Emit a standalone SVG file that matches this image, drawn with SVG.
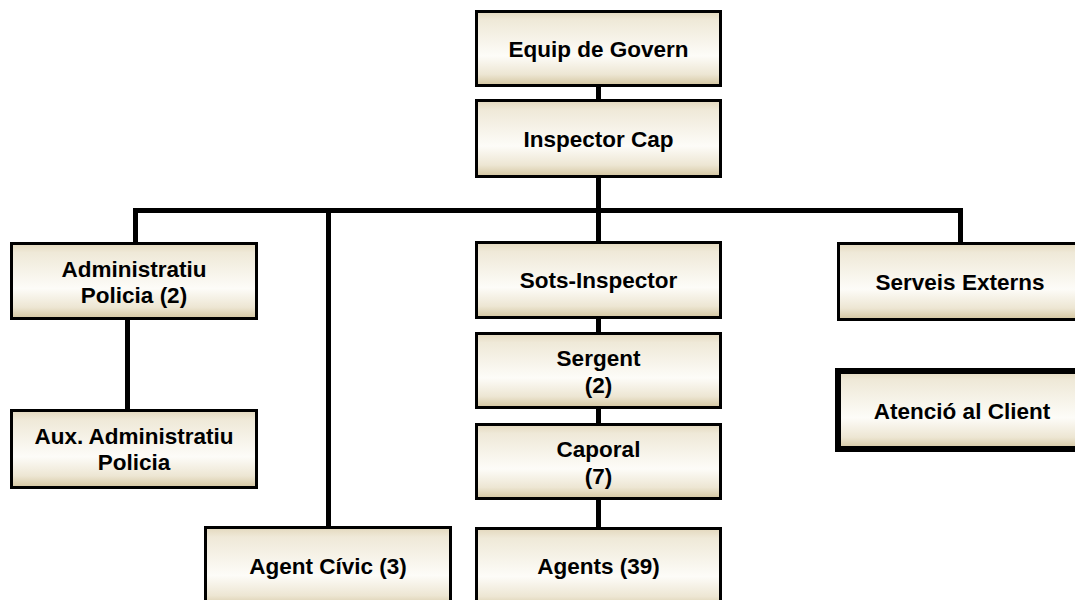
<svg xmlns="http://www.w3.org/2000/svg" width="1075" height="600" viewBox="0 0 1075 600">
<defs>
<linearGradient id="g" x1="0" y1="0" x2="0" y2="1">
<stop offset="0" stop-color="#e3d8bd"/>
<stop offset="0.12" stop-color="#efe9d8"/>
<stop offset="0.6" stop-color="#fdfcf8"/>
<stop offset="0.85" stop-color="#ede6d3"/>
<stop offset="1" stop-color="#d3c59f"/>
</linearGradient>
</defs>
<style>
.b{fill:url(#g);stroke:#000;stroke-width:3}
.bt{fill:url(#g);stroke:#000;stroke-width:6}
.t{font-family:"Liberation Sans",Arial,sans-serif;font-weight:bold;font-size:22.5px;fill:#000;text-anchor:middle}
.c{fill:none;stroke:#000;stroke-width:5}
</style>
<g id="connectors">
<path class="c" d="M598.5,87 V99"/>
<path class="c" d="M598.5,178 V241"/>
<path class="c" d="M135.5,242 V210.5 H960.5 V242"/>
<path class="c" d="M328.5,210.5 V526"/>
<path class="c" d="M127.5,320 V409"/>
<path class="c" d="M598.5,319 V332"/>
<path class="c" d="M598.5,409 V423"/>
<path class="c" d="M598.5,500 V527"/>
</g>
<g id="equip"><rect class="b" x="476.5" y="11.5" width="244" height="74"/><text class="t" x="598.5" y="57">Equip de Govern</text></g>
<g id="inspector"><rect class="b" x="476.5" y="100.5" width="244" height="76"/><text class="t" x="598.5" y="147">Inspector Cap</text></g>
<g id="admin"><rect class="b" x="11.5" y="243.5" width="245" height="75"/><text class="t" x="134" y="277">Administratiu</text><text class="t" x="134" y="303">Policia (2)</text></g>
<g id="aux"><rect class="b" x="11.5" y="410.5" width="245" height="77"/><text class="t" x="134" y="444">Aux. Administratiu</text><text class="t" x="134" y="470">Policia</text></g>
<g id="civic"><rect class="b" x="205.5" y="527.5" width="245" height="80"/><text class="t" x="328" y="574">Agent Cívic (3)</text></g>
<g id="sots"><rect class="b" x="476.5" y="242.5" width="244" height="75"/><text class="t" x="598.5" y="288">Sots-Inspector</text></g>
<g id="sergent"><rect class="b" x="476.5" y="333.5" width="244" height="74"/><text class="t" x="598.5" y="366">Sergent</text><text class="t" x="598.5" y="393">(2)</text></g>
<g id="caporal"><rect class="b" x="476.5" y="424.5" width="244" height="74"/><text class="t" x="598.5" y="457">Caporal</text><text class="t" x="598.5" y="484">(7)</text></g>
<g id="agents"><rect class="b" x="476.5" y="528.5" width="244" height="80"/><text class="t" x="598.5" y="574">Agents (39)</text></g>
<g id="serveis"><rect class="b" x="838.5" y="243.5" width="244" height="76"/><text class="t" x="960" y="290">Serveis Externs</text></g>
<g id="atencio"><rect class="bt" x="838" y="371" width="244" height="78"/><text class="t" x="962" y="419">Atenció al Client</text></g>
</svg>
